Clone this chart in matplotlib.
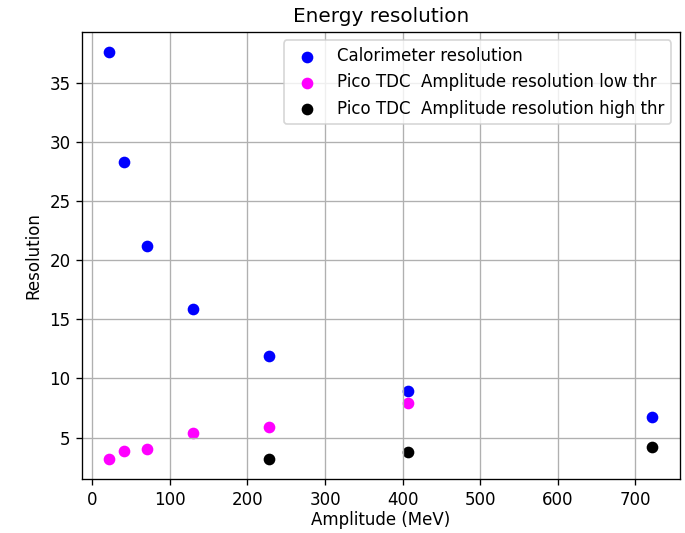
import matplotlib
matplotlib.use("Agg")
from matplotlib import pyplot as plt

# amplitude (MeV) and resolution values
calo_amp = [22, 41, 71, 130, 228, 407, 722]
calo_res = [37.6, 28.3, 21.2, 15.9, 11.9, 8.9, 6.7]

low_amp = [22, 41, 71, 130, 228, 407]
low_res = [3.2, 3.9, 4.0, 5.4, 5.9, 7.9]

high_amp = [228, 407, 722]
high_res = [3.2, 3.8, 4.2]

DPI = 120


def make_plot(file_name):
    fig = plt.figure(figsize=(685 / DPI, 533 / DPI), dpi=DPI)
    ax = fig.add_axes([0.12, 0.101, 0.872, 0.839])

    ax.scatter(calo_amp, calo_res, color="blue", label="Calorimeter resolution")
    ax.scatter(low_amp, low_res, color="magenta",
               label="Pico TDC  Amplitude resolution low thr")
    ax.scatter(high_amp, high_res, color="black",
               label="Pico TDC  Amplitude resolution high thr")

    ax.set_title("Energy resolution")
    ax.set_xlabel("Amplitude (MeV)", labelpad=1)
    ax.set_ylabel("Resolution")
    ax.grid(True)
    ax.legend(loc="upper right")

    fig.savefig(file_name, dpi=DPI)


if __name__ == '__main__':
    make_plot("out.png")
